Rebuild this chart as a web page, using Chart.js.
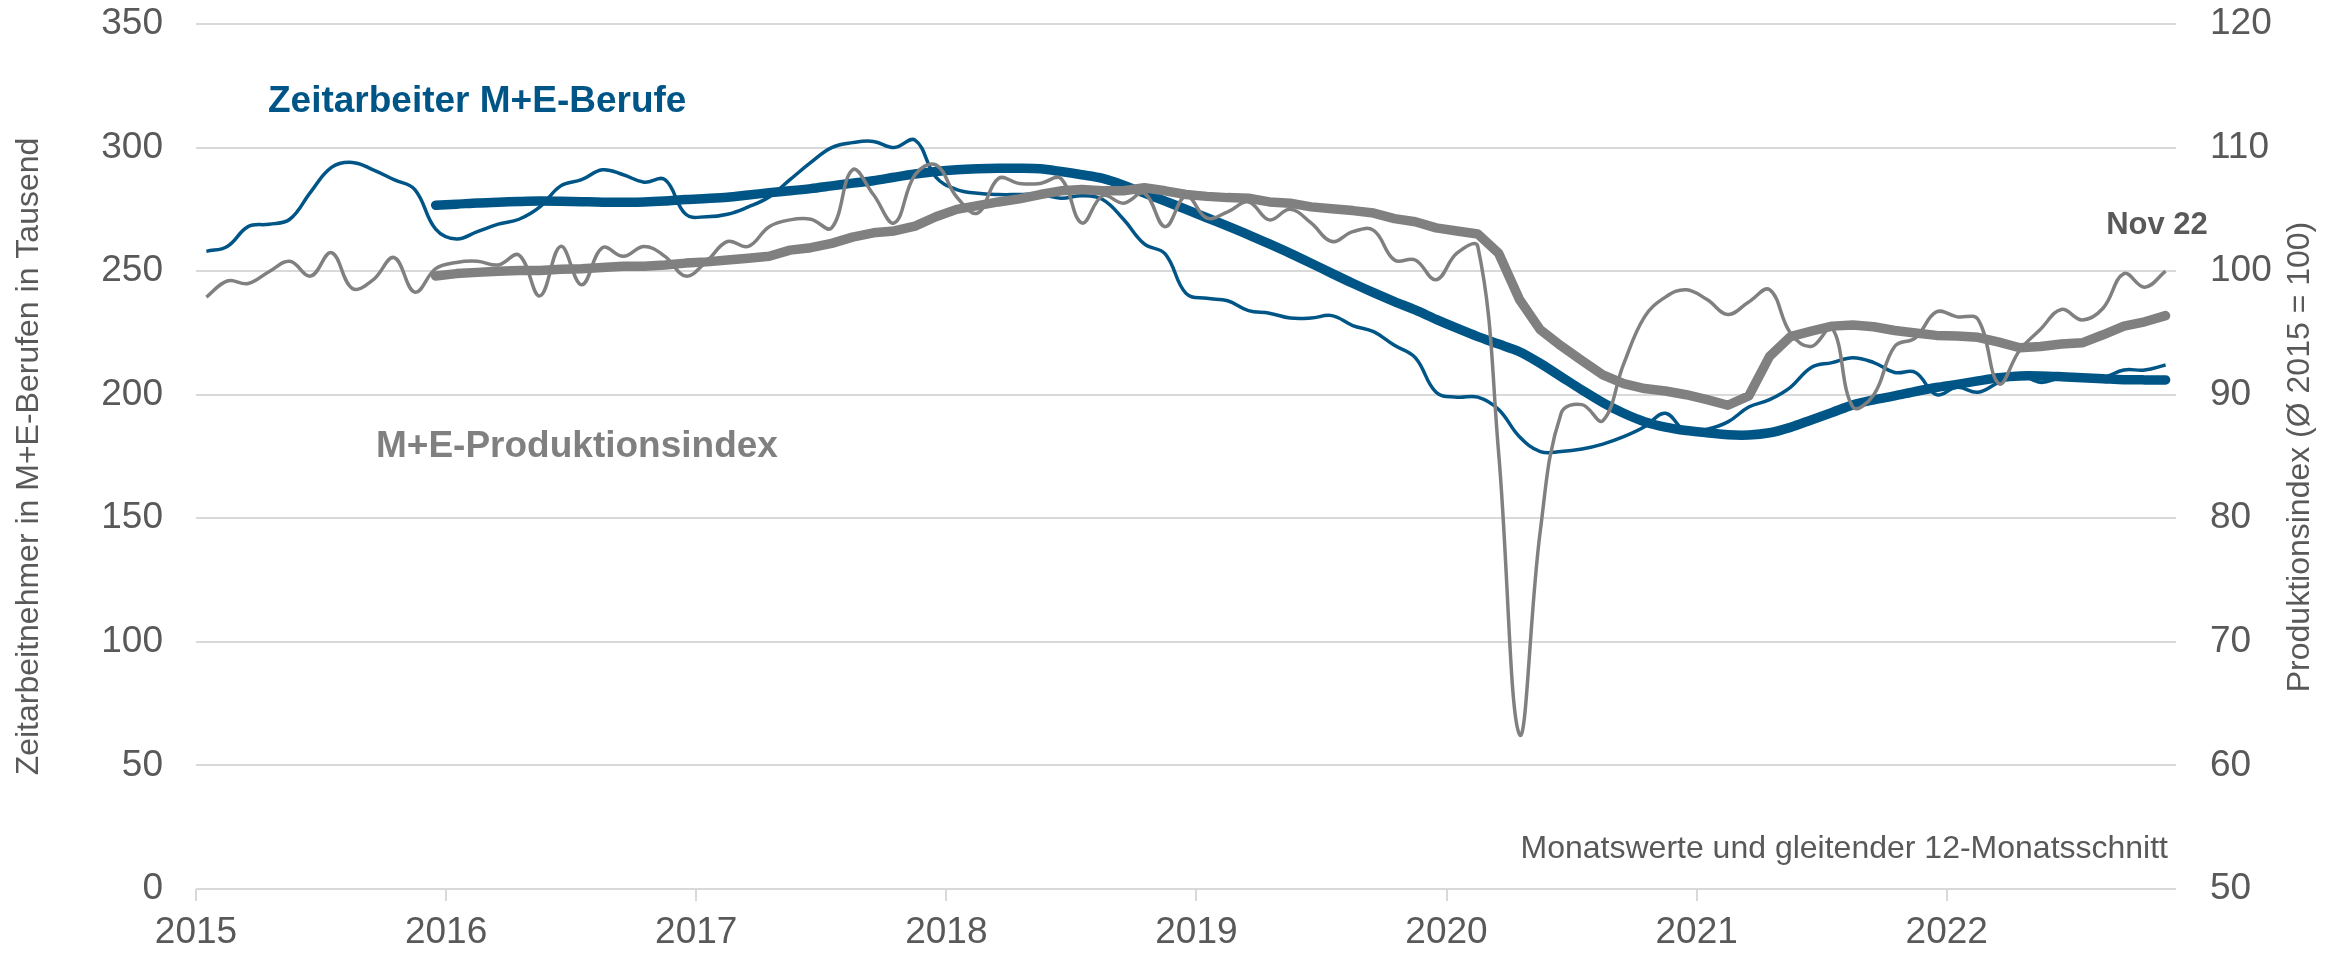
<!DOCTYPE html>
<html><head><meta charset="utf-8">
<script src="https://cdn.jsdelivr.net/npm/chart.js@4/dist/chart.umd.min.js"></script>
<style>html,body{margin:0;padding:0;background:#fff;}#wrap{width:2339px;height:953px;position:relative;}</style>
</head><body><div id="wrap"><canvas id="c" width="2339" height="953"></canvas></div>
<script>
// Tick labels
const yearLabels = ["2015","2016","2017","2018","2019","2020","2021","2022"];
const leftTicks = [0,50,100,150,200,250,300,350];
const rightTicks = [50,60,70,80,90,100,110,120];

// Zeitarbeiter M+E-Berufe, monthly, Jan 2015 - Nov 2022 (thousand)
const zeitMonthly = [
  258,260,268,269,271,282,292,294,291,287,283,267,
  263,266,269,271,276,284.5,287,291,289,286,287,273,
  272,273,276,280,287,294,300,302,302.5,300,303,288,
  283,281.5,281,281,281,279.5,280.5,279,271,261,257,241,
  239,238,234,233,231,231,232,228,225.5,220,215,201,
  199,199,194,183,177,177,178,180,183,187,192.5,185,
  186,189,195,198,203,211,213,215,213,209,209,200,
  203,201,205,208,205,207,207,207,210,210,212
];
// Zeitarbeiter, 12-month moving average, Dec 2015 - Nov 2022
const zeitAvg = [
  276.7,
  277.1,277.6,277.9,278.2,278.4,278.3,278.1,277.9,277.9,278.0,278.4,279.0,
  279.4,279.9,280.8,281.7,282.5,283.4,284.5,285.6,286.6,288.0,289.3,290.3,
  291.0,291.4,291.6,291.6,291.4,290.3,289.0,287.5,284.8,281.6,278.3,275.0,
  271.6,268.2,264.7,261.0,257.2,253.2,249.1,245.1,241.3,237.7,234.3,230.5,
  226.9,223.5,220.5,217.4,212.7,207.3,201.9,196.8,192.5,189.1,186.9,185.5,
  184.6,183.8,183.7,184.6,186.8,189.8,192.8,195.9,197.9,199.5,201.3,202.9,
  204.2,205.6,206.9,207.6,207.6,207.3,206.9,206.5,206.1,206.0,206.0
];
// M+E-Produktionsindex, monthly (2015 = 100)
const prodMonthly = [
  97.9,99.2,99.0,99.95,100.8,99.6,101.5,98.6,99.3,101.1,98.3,100.2,
  100.7,100.8,100.5,101.3,98.0,102.0,98.9,101.9,101.2,102.0,101.2,99.6,
  100.8,102.4,102.0,103.6,104.15,104.2,103.5,108.2,106.2,103.9,107.8,108.6,
  106.0,104.7,107.5,107.1,107.1,107.5,103.9,106.1,105.5,106.3,103.6,106.1,
  104.3,104.8,105.6,104.15,105.0,103.9,102.4,103.2,103.3,100.9,100.9,99.3,
  101.45,102.0,85.3,62.5,79.0,88.5,89.2,87.9,92.5,96.3,97.9,98.5,
  97.7,96.5,97.5,98.5,95.0,93.9,95.4,89.0,90.0,93.9,94.6,96.7,
  96.3,96.1,90.9,93.6,95.3,96.9,96.05,97.0,99.8,98.7,100.0
];
// M+E-Produktionsindex, 12-month moving average, Dec 2015 - Nov 2022
const prodAvg = [
  99.6,
  99.8,99.9,100.0,100.05,100.05,100.15,100.2,100.3,100.4,100.4,100.5,100.65,
  100.75,100.9,101.05,101.2,101.7,101.9,102.25,102.75,103.1,103.25,103.65,104.4,
  105.0,105.3,105.6,105.85,106.2,106.5,106.6,106.5,106.5,106.75,106.5,106.2,
  106.05,105.95,105.9,105.6,105.5,105.2,105.05,104.9,104.7,104.25,104.0,103.5,
  103.25,103.0,101.45,97.7,95.25,93.95,92.75,91.6,90.9,90.5,90.3,90.0,
  89.6,89.15,89.9,93.1,94.7,95.15,95.55,95.65,95.5,95.2,95.0,94.8,
  94.75,94.65,94.25,93.8,93.9,94.1,94.2,94.85,95.55,95.9,96.4
];
const avgStart = 11; // Dec 2015

const BLUE = '#005587', GRAY = '#808080', TXT = '#595959', GRID = '#d9d9d9';
const FONT = '"Liberation Sans", Arial, sans-serif';

const toPts = (arr, start) => arr.map((v, k) => ({x: start + k + 0.5, y: v}));

const annot = {
  id: 'annot',
  afterDraw(chart) {
    const ctx = chart.ctx;
    ctx.save();
    ctx.textBaseline = 'alphabetic';
    ctx.textAlign = 'left';
    ctx.font = 'bold 37px ' + FONT;
    ctx.fillStyle = BLUE;
    ctx.fillText('Zeitarbeiter M+E-Berufe', 268, 112);
    ctx.fillStyle = GRAY;
    ctx.fillText('M+E-Produktionsindex', 376, 457);
    ctx.font = 'bold 31px ' + FONT;
    ctx.fillStyle = TXT;
    ctx.textAlign = 'center';
    ctx.fillText('Nov 22', 2157, 234);
    ctx.font = '32px ' + FONT;
    ctx.textAlign = 'right';
    ctx.fillText('Monatswerte und gleitender 12-Monatsschnitt', 2168, 858);
    ctx.translate(2300, 457);
    ctx.rotate(-Math.PI / 2);
    ctx.textAlign = 'center';
    ctx.textBaseline = 'middle';
    ctx.fillText('Produktionsindex (\u00D8 2015 = 100)', 0, 0);
    ctx.restore();
  }
};

new Chart(document.getElementById('c'), {
  type: 'line',
  data: {
    datasets: [
      {data: toPts(prodMonthly, 0), yAxisID: 'y1', borderColor: GRAY, borderWidth: 3.5, tension: 0.4, order: 0},
      {data: toPts(prodAvg, avgStart), yAxisID: 'y1', borderColor: GRAY, borderWidth: 9.5, tension: 0, order: 1, borderCapStyle: 'round', borderJoinStyle: 'round'},
      {data: toPts(zeitMonthly, 0), yAxisID: 'y', borderColor: BLUE, borderWidth: 3.5, tension: 0.4, order: 2},
      {data: toPts(zeitAvg, avgStart), yAxisID: 'y', borderColor: BLUE, borderWidth: 9.5, tension: 0.3, order: 3, borderCapStyle: 'round', borderJoinStyle: 'round'}
    ]
  },
  options: {
    responsive: false,
    animation: false,
    devicePixelRatio: 1,
    layout: {padding: {top: 24, left: 0, right: 0, bottom: 0}},
    elements: {point: {radius: 0, hoverRadius: 0}},
    plugins: {legend: {display: false}, tooltip: {enabled: false}},
    scales: {
      x: {
        type: 'linear', min: 0, max: 95,
        afterBuildTicks: s => { s.ticks = yearLabels.map((_, k) => ({value: k * 12})); },
        afterFit: s => { s.height = 64; s.paddingLeft = 0; s.paddingRight = 0; },
        ticks: {callback: v => yearLabels[Math.round(v / 12)], font: {family: FONT, size: 37}, color: TXT, padding: 10, maxRotation: 0, autoSkip: false},
        grid: {drawOnChartArea: false, drawTicks: true, tickLength: 12, color: GRID, lineWidth: 2},
        border: {display: false}
      },
      y: {
        position: 'left', min: 0, max: 350,
        afterBuildTicks: s => { s.ticks = leftTicks.map(v => ({value: v})); },
        afterFit: s => { s.width = 196; s.paddingTop = 0; s.paddingBottom = 0; },
        ticks: {font: {family: FONT, size: 37}, color: TXT, padding: 33},
        grid: {color: GRID, lineWidth: 2, drawTicks: false},
        border: {display: false},
        title: {display: true, text: 'Zeitarbeitnehmer in M+E-Berufen in Tausend', font: {family: FONT, size: 32}, color: TXT, padding: {top: 10, bottom: 0}}
      },
      y1: {
        position: 'right', min: 50, max: 120,
        afterBuildTicks: s => { s.ticks = rightTicks.map(v => ({value: v})); },
        afterFit: s => { s.width = 163; s.paddingTop = 0; s.paddingBottom = 0; },
        ticks: {font: {family: FONT, size: 37}, color: TXT, padding: 34},
        grid: {drawOnChartArea: false, drawTicks: false},
        border: {display: false}
      }
    }
  },
  plugins: [annot]
});
</script></body></html>
